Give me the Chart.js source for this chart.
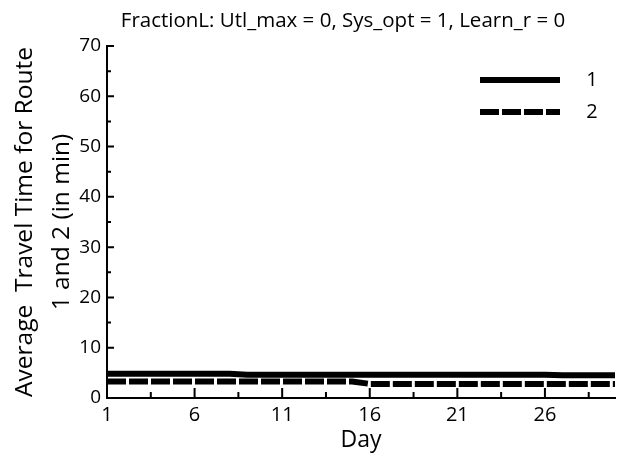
<!DOCTYPE html>
<html>
<head>
<meta charset="utf-8">
<script src="https://cdn.jsdelivr.net/npm/chart.js@4/dist/chart.umd.min.js"></script>
<style>
  html, body { margin: 0; padding: 0; background: #fff; }
  #wrap { position: relative; width: 623px; height: 460px; }
  #chartTitle {
    position: absolute;
    top: 8px;
    left: 343px;
    transform: translateX(-50%);
    white-space: nowrap;
    font: 20.5px "Open Sans", sans-serif;
    line-height: 22px;
    color: #000;
  }
</style>
</head>
<body>
<div id="wrap">
  <canvas id="travelChart" width="623" height="460"></canvas>
  <div id="chartTitle">FractionL: Utl_max = 0, Sys_opt = 1, Learn_r = 0</div>
</div>
<script>
const days = [1, 2, 3, 4, 5, 6, 7, 8, 9, 10, 11, 12, 13, 14, 15, 16, 17, 18, 19, 20, 21, 22, 23, 24, 25, 26, 27, 28, 29, 30];
const route1 = [4.8, 4.8, 4.8, 4.8, 4.8, 4.8, 4.8, 4.8, 4.6, 4.6, 4.6, 4.6, 4.6, 4.6, 4.6, 4.6, 4.6, 4.6, 4.6, 4.6, 4.6, 4.6, 4.6, 4.6, 4.6, 4.6, 4.5, 4.5, 4.5, 4.5];
const route2 = [3.3, 3.3, 3.3, 3.3, 3.3, 3.3, 3.3, 3.3, 3.3, 3.3, 3.3, 3.3, 3.3, 3.3, 3.3, 2.8, 2.8, 2.8, 2.8, 2.8, 2.8, 2.8, 2.8, 2.8, 2.8, 2.8, 2.8, 2.8, 2.8, 2.8];
const seriesLabels = ["1", "2"];
const xTicks = [1, 3.5, 6, 8.5, 11, 13.5, 16, 18.5, 21, 23.5, 26, 28.5];
const xLabelled = [1, 6, 11, 16, 21, 26];
const yTicks = [0, 5, 10, 15, 20, 25, 30, 35, 40, 45, 50, 55, 60, 65, 70];
const yLabelled = [0, 10, 20, 30, 40, 50, 60, 70];

const FONT = '"Open Sans", sans-serif';

function toPoints(values) {
  return days.map((d, i) => ({ x: d, y: values[i] }));
}

// tick marks drawn on the inside of the axes, long for labelled ticks
const innerTicks = {
  id: "innerTicks",
  afterDatasetsDraw(chart) {
    const { ctx, chartArea, scales } = chart;
    ctx.save();
    ctx.strokeStyle = "#000";
    ctx.lineWidth = 2;
    ctx.beginPath();
    xTicks.forEach((v) => {
      const px = scales.x.getPixelForValue(v);
      const len = xLabelled.includes(v) ? 10 : 6;
      ctx.moveTo(px, chartArea.bottom);
      ctx.lineTo(px, chartArea.bottom - len);
    });
    yTicks.forEach((v) => {
      const py = scales.y.getPixelForValue(v);
      const len = yLabelled.includes(v) ? 7 : 4;
      ctx.moveTo(chartArea.left, py);
      ctx.lineTo(chartArea.left + len, py);
    });
    ctx.stroke();
    ctx.restore();
  }
};

const lineLegend = {
  id: "lineLegend",
  afterDraw(chart) {
    const { ctx, chartArea } = chart;
    ctx.save();
    ctx.font = "20px " + FONT;
    ctx.fillStyle = "#000";
    ctx.textAlign = "center";
    ctx.textBaseline = "middle";
    chart.data.datasets.forEach((ds, i) => {
      const y = chartArea.top + 34 + i * 32;
      ctx.strokeStyle = ds.borderColor;
      ctx.lineWidth = ds.borderWidth;
      ctx.setLineDash(ds.borderDash || []);
      ctx.beginPath();
      ctx.moveTo(chartArea.right - 135, y);
      ctx.lineTo(chartArea.right - 55, y);
      ctx.stroke();
      ctx.setLineDash([]);
      ctx.fillText(ds.label, chartArea.right - 23, y);
    });
    ctx.restore();
  }
};

new Chart(document.getElementById("travelChart"), {
  type: "line",
  data: {
    datasets: [
      {
        label: seriesLabels[0],
        data: toPoints(route1),
        borderColor: "#000",
        borderWidth: 6,
        pointRadius: 0,
        tension: 0
      },
      {
        label: seriesLabels[1],
        data: toPoints(route2),
        borderColor: "#000",
        borderWidth: 6,
        borderDash: [19, 3],
        pointRadius: 0,
        tension: 0
      }
    ]
  },
  options: {
    responsive: false,
    animation: false,
    events: [],
    layout: { padding: { top: 46, right: 8, left: 0, bottom: 0 } },
    plugins: {
      legend: { display: false },
      tooltip: { enabled: false }
    },
    scales: {
      x: {
        type: "linear",
        min: 1,
        max: 30,
        afterBuildTicks(scale) {
          scale.ticks = xTicks.map((v) => ({ value: v }));
        },
        afterFit(scale) {
          scale.height = 62;
        },
        grid: { display: false, drawTicks: false },
        border: { display: true, color: "#000", width: 2 },
        ticks: {
          autoSkip: false,
          maxRotation: 0,
          padding: 5,
          color: "#000",
          font: { family: FONT, size: 20 },
          callback: (v) => (xLabelled.includes(v) ? String(v) : "")
        },
        title: {
          display: true,
          text: "Day",
          color: "#000",
          font: { family: FONT, size: 23 },
          padding: { top: 0, bottom: 6 }
        }
      },
      y: {
        min: 0,
        max: 70,
        afterBuildTicks(scale) {
          scale.ticks = yTicks.map((v) => ({ value: v }));
        },
        afterFit(scale) {
          scale.width = 107;
        },
        grid: { display: false, drawTicks: false },
        border: { display: true, color: "#000", width: 2 },
        ticks: {
          autoSkip: false,
          padding: 6,
          color: "#000",
          font: { family: FONT, size: 19 },
          callback: (v) => (yLabelled.includes(v) ? String(v) : "")
        },
        title: {
          display: true,
          text: ["Average  Travel Time for Route", "1 and 2 (in min)"],
          color: "#000",
          font: { family: FONT, size: 24.5, lineHeight: 1.5 },
          padding: { top: 7, bottom: 0 }
        }
      }
    }
  },
  plugins: [innerTicks, lineLegend]
});
</script>
</body>
</html>
